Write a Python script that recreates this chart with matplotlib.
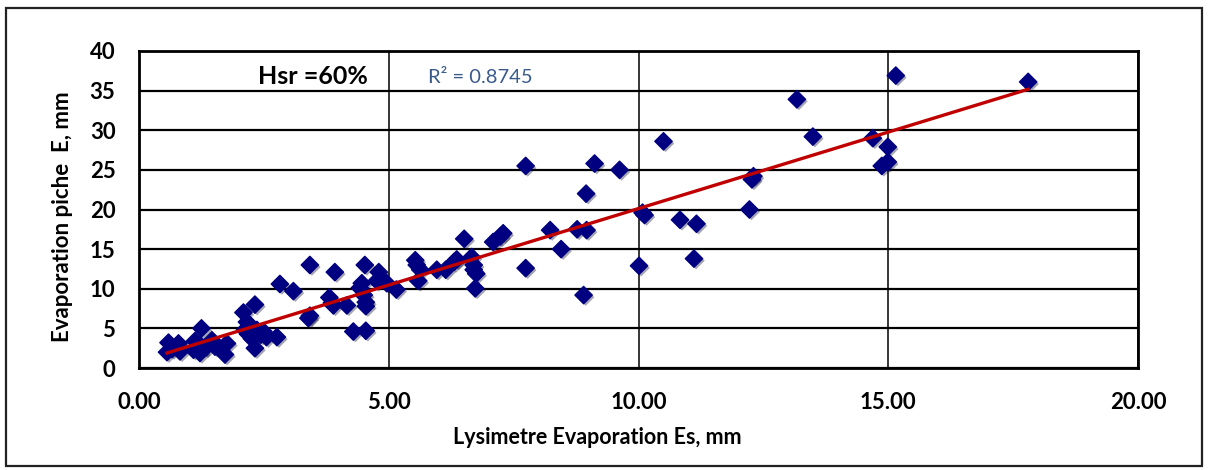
import matplotlib
matplotlib.use("Agg")
import matplotlib.pyplot as plt
import matplotlib.patheffects as pe
from matplotlib.patches import Rectangle
import numpy as np

# ========================================================================
#                           Data
# ========================================================================
lysimeter_es = [
    0.56, 0.59, 0.66, 0.79, 0.82, 1.09, 1.12, 1.22, 1.22, 1.25,
    1.34, 1.46, 1.52, 1.72, 1.76, 2.09, 2.12, 2.16, 2.18, 2.22,
    2.26, 2.32, 2.32, 2.36, 2.44, 2.49, 2.55, 2.76, 2.82, 3.09,
    3.39, 3.42, 3.42, 3.81, 3.86, 3.89, 3.92, 4.16, 4.29, 4.42,
    4.46, 4.50, 4.52, 4.54, 4.54, 4.54, 4.76, 4.80, 4.86, 4.96,
    5.15, 5.53, 5.56, 5.59, 5.63, 5.96, 6.14, 6.31, 6.36, 6.51,
    6.66, 6.70, 6.70, 6.75, 6.73, 7.09, 7.23, 7.29, 7.74, 7.74,
    8.23, 8.45, 8.77, 8.90, 8.95, 8.96, 9.12, 9.62, 10.01, 10.08,
    10.12, 10.50, 10.83, 11.11, 11.16, 12.22, 12.27, 12.30, 13.17, 13.49,
    14.69, 14.87, 14.99, 14.99, 15.15, 17.80,
]
piche_e = [
    2.0, 3.2, 2.4, 3.1, 2.1, 2.3, 3.4, 2.9, 1.9, 5.0,
    2.6, 3.5, 2.7, 1.7, 3.1, 7.0, 4.8, 5.8, 4.3, 5.4,
    3.7, 8.0, 2.5, 4.8, 4.2, 4.6, 3.9, 3.9, 10.6, 9.7,
    6.3, 6.6, 13.0, 8.9, 8.2, 7.9, 12.1, 7.9, 4.6, 10.1,
    10.7, 9.2, 13.0, 7.8, 4.7, 8.3, 11.0, 12.1, 11.2, 10.7,
    9.9, 13.6, 13.0, 11.0, 12.4, 12.4, 12.4, 13.4, 13.7, 16.3,
    14.0, 13.0, 12.4, 11.9, 10.05, 15.9, 16.6, 17.0, 25.5, 12.6,
    17.4, 15.0, 17.5, 9.2, 22.0, 17.4, 25.8, 25.0, 12.9, 19.6,
    19.3, 28.6, 18.7, 13.8, 18.2, 20.0, 23.8, 24.2, 33.9, 29.2,
    29.0, 25.5, 26.0, 27.9, 36.9, 36.1,
]

# linear trend as shown on the chart
trend_slope = 1.93
trend_intercept = 0.82
r2_label = "R\u00b2 = 0.8745"
hsr_label = "Hsr =60%"

x_ticks = [0, 5, 10, 15, 20]
y_ticks = [0, 5, 10, 15, 20, 25, 30, 35, 40]

# ========================================================================
#                           Plot
# ========================================================================
plt.rcParams["font.family"] = ["Lato", "DejaVu Sans"]

fig = plt.figure(figsize=(12.08, 4.70), dpi=100)
ax = fig.add_axes([0.1151, 0.217, 0.8270, 0.6745])

# outer chart border
fig.patches.append(Rectangle((0.005, 0.008), 0.990, 0.975, transform=fig.transFigure,
                             fill=False, edgecolor="#222222", linewidth=1.6))

ax.scatter(lysimeter_es, piche_e, marker="D", s=78, color="#000080", zorder=3,
           path_effects=[pe.SimplePatchShadow(offset=(1.5, -1.5), alpha=0.35),
                         pe.Normal()])

tx = np.array([min(lysimeter_es), max(lysimeter_es)])
ax.plot(tx, trend_slope * tx + trend_intercept, color="#C00000", linewidth=2.4, zorder=4)

ax.set_xlim(0, 20)
ax.set_ylim(0, 40)
ax.set_xticks(x_ticks)
ax.set_yticks(y_ticks)
ax.set_xticklabels([f"{v:.2f}" for v in x_ticks], fontsize=16, fontweight="bold")
ax.set_yticklabels([str(v) for v in y_ticks], fontsize=16, fontweight="bold")
ax.tick_params(length=0)
ax.tick_params(axis="y", pad=17)
ax.tick_params(axis="x", pad=17)

ax.xaxis.grid(True, color="black", linewidth=1.1)
ax.yaxis.grid(True, color="black", linewidth=1.6)
ax.set_axisbelow(True)
for s in ax.spines.values():
    s.set_linewidth(2)
    s.set_color("black")

ax.set_xlabel("Lysimetre Evaporation Es, mm", fontsize=15.5, fontweight="bold", va="center")
ax.xaxis.set_label_coords(0.459, -0.218)
ax.set_ylabel("Evaporation piche  E, mm", fontsize=16, fontweight="bold", va="center")
ax.yaxis.set_label_coords(-0.0766, 0.476)

ax.text(4.58, 36.8, hsr_label, fontsize=18, fontweight="bold", ha="right", va="center", zorder=5)
ax.text(5.79, 36.7, r2_label, fontsize=14.5, color="#3A5A8C", ha="left", va="center", zorder=5)

plt.savefig("out.png", dpi=100)
